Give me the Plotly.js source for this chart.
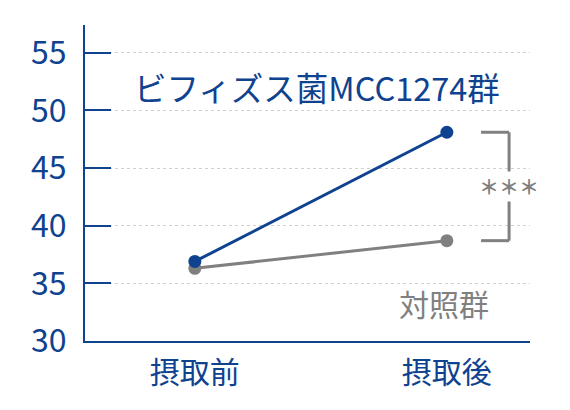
<!DOCTYPE html>
<html>
<head>
<meta charset="utf-8">
<script src="https://cdn.plot.ly/plotly-3.0.1.min.js"></script>
<style>
  html, body { margin: 0; padding: 0; background: #ffffff; }
  #chart { width: 570px; height: 410px; }
</style>
</head>
<body>
<div id="chart"></div>
<script>
// data
var phases = ['摂取前', '摂取後'];
var mccValues = [36.9, 48.1];
var controlValues = [36.3, 38.7];
var yTicks = [30, 35, 40, 45, 50, 55];

var blue = '#0f428f';
var gray = '#808080';
var font = '"Noto Sans CJK JP", "Noto Sans", sans-serif';

var control = {
  x: phases,
  y: controlValues,
  type: 'scatter',
  mode: 'lines+markers',
  hoverinfo: 'none',
  line: {color: gray, width: 3},
  marker: {color: gray, size: 13}
};
var mcc = {
  x: phases,
  y: mccValues,
  type: 'scatter',
  mode: 'lines+markers',
  hoverinfo: 'none',
  line: {color: blue, width: 3},
  marker: {color: blue, size: 13}
};

var layout = {
  width: 570,
  height: 410,
  margin: {l: 85, r: 40, t: 25, b: 69},
  plot_bgcolor: '#ffffff',
  paper_bgcolor: '#ffffff',
  showlegend: false,
  font: {family: font, size: 26, color: blue},
  xaxis: {
    type: 'category',
    range: [-0.436, 1.33],
    showgrid: false,
    zeroline: false,
    showline: true,
    linecolor: blue,
    linewidth: 2,
    ticks: '',
    ticklabelstandoff: 4,
    tickfont: {family: font, size: 30, color: blue}
  },
  yaxis: {
    range: [30, 57.4],
    tickvals: yTicks,
    showgrid: true,
    gridcolor: '#d0d0d0',
    gridwidth: 1,
    griddash: 'dot',
    zeroline: false,
    showline: true,
    linecolor: blue,
    linewidth: 2,
    ticks: 'inside',
    ticklen: 26,
    tickwidth: 2,
    tickcolor: blue,
    ticklabelstandoff: 10,
    tickfont: {family: font, size: 32, color: blue}
  },
  shapes: [
    // significance bracket between the two end values
    {type: 'line', xref: 'paper', yref: 'y', x0: 0.89, x1: 0.953, y0: mccValues[1], y1: mccValues[1], line: {color: gray, width: 3}},
    {type: 'line', xref: 'paper', yref: 'y', x0: 0.89, x1: 0.953, y0: controlValues[1], y1: controlValues[1], line: {color: gray, width: 3}},
    {type: 'line', xref: 'paper', yref: 'y', x0: 0.953, x1: 0.953, y0: controlValues[1], y1: mccValues[1], line: {color: gray, width: 3}}
  ],
  annotations: [
    {text: 'ビフィズス菌MCC1274群', xref: 'paper', yref: 'y', x: 0.105, y: 52.1, xanchor: 'left', yanchor: 'middle', showarrow: false,
     font: {family: font, size: 32.5, color: blue}},
    {text: '対照群', xref: 'paper', yref: 'y', x: 0.7, y: 33.3, xanchor: 'left', yanchor: 'middle', showarrow: false,
     font: {family: font, size: 30, color: gray}},
    {text: '＊＊＊', xref: 'paper', yref: 'y', x: 0.953, y: (mccValues[1] + controlValues[1]) / 2, xanchor: 'center', yanchor: 'middle', showarrow: false,
     bgcolor: '#ffffff', borderpad: 0, font: {family: font, size: 20, color: gray, weight: 'bold'}}
  ]
};

var config = {responsive: false, displayModeBar: false, staticPlot: true};

Plotly.newPlot('chart', [control, mcc], layout, config);
</script>
</body>
</html>
